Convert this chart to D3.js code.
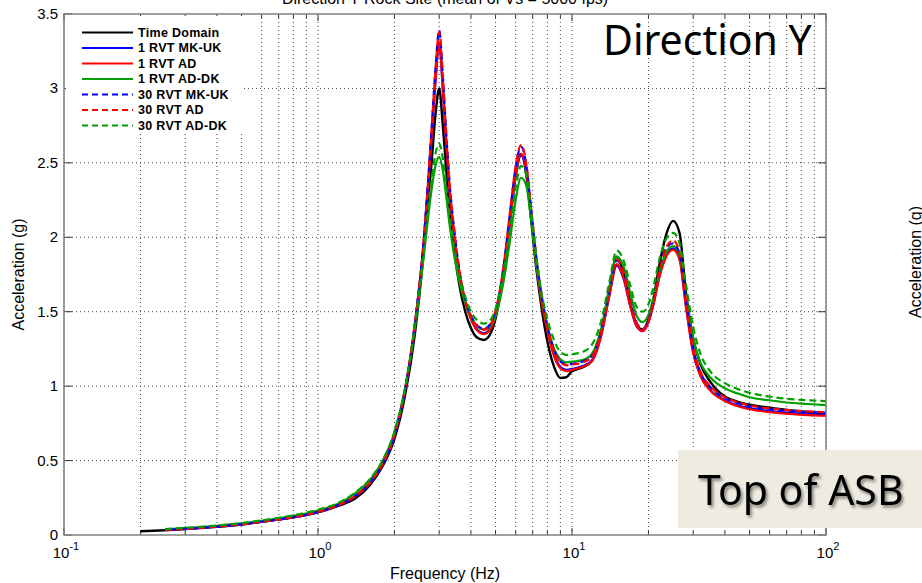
<!DOCTYPE html>
<html><head><meta charset="utf-8">
<script src="https://cdn.jsdelivr.net/npm/d3@7"></script>
<style>
body{margin:0;background:#fff;}
svg{display:block;font-family:"Liberation Sans",Arial,sans-serif;}
</style>
</head><body>
<svg id="chart" width="922" height="583"></svg>
<script>
// ---------- DATA ----------
const freq = [0.2,0.25,0.3,0.4,0.5,0.6,0.7,0.8,1.0,1.2,
  1.4,1.6,1.8,2.0,2.2,2.4,2.6,2.7,2.8,2.9,
  3.0,3.1,3.2,3.3,3.45,3.6,3.8,4.0,4.2,4.5,
  4.8,5.1,5.4,5.7,6.0,6.3,6.6,6.9,7.2,7.6,
  8.0,8.5,9.0,9.5,10,11,12,13,14,15,
  16,17,18,19,20,21,22,23.5,25,26.5,
  28,30,32,35,40,45,50,60,70,85,
  100];

const timeDomain = [0.025,0.032,0.040,0.055,0.070,0.088,0.103,0.118,0.152,0.195,
  0.245,0.335,0.465,0.645,0.935,1.335,1.880,2.200,2.500,2.820,
  3.000,2.750,2.450,2.180,1.900,1.680,1.500,1.390,1.330,1.310,
  1.360,1.520,1.800,2.120,2.420,2.560,2.430,2.120,1.820,1.520,
  1.300,1.130,1.055,1.060,1.100,1.125,1.170,1.350,1.650,1.870,
  1.750,1.550,1.410,1.380,1.450,1.600,1.800,2.020,2.110,2.030,
  1.650,1.320,1.150,1.030,0.930,0.895,0.875,0.855,0.840,0.825,
  0.815];

const rvt1MKUK = [null,0.034,0.041,0.056,0.072,0.089,0.104,0.119,0.154,0.198,
  0.258,0.348,0.478,0.668,0.965,1.395,1.945,2.295,2.675,3.040,
  3.300,2.995,2.615,2.300,1.980,1.750,1.565,1.455,1.385,1.355,
  1.395,1.535,1.785,2.100,2.410,2.550,2.440,2.150,1.855,1.570,
  1.380,1.210,1.130,1.110,1.115,1.135,1.175,1.335,1.600,1.810,
  1.715,1.530,1.400,1.370,1.430,1.560,1.725,1.880,1.925,1.860,
  1.560,1.230,1.075,0.975,0.905,0.870,0.852,0.832,0.822,0.812,
  0.808];

const rvt1AD = [null,0.035,0.042,0.057,0.073,0.090,0.105,0.120,0.155,0.200,
  0.260,0.350,0.480,0.670,0.970,1.400,1.950,2.300,2.680,3.050,
  3.310,3.000,2.620,2.300,1.980,1.750,1.560,1.450,1.380,1.350,
  1.390,1.530,1.780,2.100,2.420,2.560,2.450,2.150,1.850,1.560,
  1.370,1.200,1.120,1.100,1.110,1.130,1.170,1.330,1.600,1.820,
  1.720,1.530,1.400,1.370,1.430,1.560,1.720,1.870,1.915,1.850,
  1.550,1.220,1.070,0.970,0.900,0.865,0.845,0.825,0.815,0.805,
  0.800];

const rvt1ADDK = [null,0.038,0.046,0.062,0.078,0.095,0.112,0.128,0.165,0.210,
  0.280,0.370,0.500,0.690,0.980,1.380,1.850,2.100,2.320,2.480,
  2.540,2.450,2.270,2.080,1.860,1.700,1.560,1.470,1.410,1.380,
  1.410,1.520,1.720,1.980,2.250,2.400,2.350,2.120,1.850,1.580,
  1.400,1.250,1.180,1.160,1.165,1.175,1.220,1.380,1.650,1.870,
  1.800,1.620,1.470,1.430,1.480,1.600,1.750,1.900,1.940,1.880,
  1.620,1.320,1.160,1.060,0.985,0.950,0.925,0.905,0.890,0.880,
  0.872];

const rvt30MKUK = [null,0.035,0.042,0.057,0.073,0.090,0.105,0.120,0.156,0.201,
  0.262,0.352,0.482,0.672,0.975,1.405,1.955,2.330,2.730,3.130,
  3.390,3.090,2.690,2.360,2.030,1.785,1.585,1.475,1.415,1.385,
  1.425,1.570,1.830,2.165,2.470,2.610,2.490,2.200,1.900,1.605,
  1.405,1.245,1.165,1.145,1.150,1.165,1.205,1.365,1.620,1.845,
  1.760,1.565,1.425,1.385,1.445,1.585,1.765,1.930,1.960,1.890,
  1.595,1.255,1.095,0.995,0.920,0.885,0.865,0.845,0.835,0.827,
  0.822];

const rvt30AD = [null,0.035,0.042,0.057,0.073,0.090,0.105,0.120,0.156,0.201,
  0.262,0.352,0.482,0.672,0.975,1.405,1.950,2.320,2.720,3.120,
  3.380,3.080,2.680,2.350,2.020,1.780,1.580,1.470,1.410,1.380,
  1.420,1.570,1.830,2.170,2.480,2.620,2.500,2.200,1.900,1.600,
  1.400,1.240,1.160,1.140,1.145,1.160,1.200,1.360,1.620,1.850,
  1.760,1.560,1.420,1.380,1.440,1.580,1.760,1.930,1.980,1.900,
  1.600,1.260,1.100,1.000,0.925,0.890,0.870,0.850,0.840,0.830,
  0.825];

const rvt30ADDK = [null,0.040,0.048,0.064,0.080,0.098,0.115,0.132,0.170,0.215,
  0.285,0.375,0.505,0.695,0.985,1.390,1.880,2.150,2.380,2.560,
  2.630,2.530,2.340,2.140,1.910,1.740,1.600,1.500,1.450,1.420,
  1.450,1.570,1.780,2.050,2.330,2.480,2.420,2.180,1.900,1.620,
  1.450,1.310,1.230,1.210,1.215,1.230,1.280,1.430,1.690,1.910,
  1.840,1.670,1.530,1.500,1.550,1.680,1.840,1.990,2.030,1.960,
  1.700,1.400,1.220,1.100,1.020,0.980,0.955,0.930,0.915,0.905,
  0.900];

const seriesNames = ["Time Domain","1 RVT MK-UK","1 RVT AD","1 RVT AD-DK","30 RVT MK-UK","30 RVT AD","30 RVT AD-DK"];
const seriesValues = [timeDomain, rvt1MKUK, rvt1AD, rvt1ADDK, rvt30MKUK, rvt30AD, rvt30ADDK];
const yTickValues = [0,0.5,1,1.5,2,2.5,3,3.5];
const yTickLabels = ["0","0.5","1","1.5","2","2.5","3","3.5"];
const xTickValues = [0.1,1,10,100];
const xTickExponents = ["-1","0","1","2"];
const titleText = "Direction Y Rock Site (mean of Vs = 5000 fps)";
const xLabel = "Frequency (Hz)";
const yLabel = "Acceleration (g)";

// ---------- STYLES ----------
const colors = ["#000000","#0000ff","#ff0000","#00a000","#0000ff","#ff0000","#00a000"];
const dashed = [false,false,false,false,true,true,true];

// ---------- DRAW ----------
const svg = d3.select("#chart");
const L = 64, R = 826, T = 14, B = 535;
const x = d3.scaleLog().domain([0.1,100]).range([L,R]);
const y = d3.scaleLinear().domain([0,3.5]).range([B,T]);

svg.append("rect").attr("width",922).attr("height",583).attr("fill","#fff");

const defs = svg.append("defs");
defs.append("clipPath").attr("id","plotclip").append("rect")
  .attr("x",L).attr("y",T).attr("width",R-L).attr("height",B-T);
const f = defs.append("filter").attr("id","shadow").attr("x","-10%").attr("y","-20%").attr("width","130%").attr("height","150%");
f.append("feDropShadow").attr("dx",2).attr("dy",2.5).attr("stdDeviation",1.5)
  .attr("flood-color","#000").attr("flood-opacity",0.45);

// grid
const grid = svg.append("g");
grid.selectAll("line.vx").data(x.ticks()).join("line")
  .attr("x1",d=>x(d)).attr("x2",d=>x(d)).attr("y1",T).attr("y2",B)
  .attr("stroke","#444").attr("stroke-width",1).attr("stroke-dasharray","1,3");
grid.selectAll("line.hy").data(yTickValues.slice(1,-1)).join("line")
  .attr("x1",L).attr("x2",R).attr("y1",d=>y(d)).attr("y2",d=>y(d))
  .attr("stroke","#444").attr("stroke-width",1).attr("stroke-dasharray","1,3");

// ticks (inward)
const tk = svg.append("g").attr("stroke","#333").attr("stroke-width",1);
x.ticks().forEach(v=>{
  const major = Math.abs(Math.log10(v)-Math.round(Math.log10(v)))<1e-9;
  const len = major ? 7 : 4;
  tk.append("line").attr("x1",x(v)).attr("x2",x(v)).attr("y1",B).attr("y2",B-len);
  tk.append("line").attr("x1",x(v)).attr("x2",x(v)).attr("y1",T).attr("y2",T+len);
});
yTickValues.forEach(v=>{
  tk.append("line").attr("x1",L).attr("x2",L+8).attr("y1",y(v)).attr("y2",y(v));
  tk.append("line").attr("x1",R).attr("x2",R-8).attr("y1",y(v)).attr("y2",y(v));
});

// lines
const line = d3.line()
  .defined((d)=>d[1]!=null)
  .x(d=>x(d[0])).y(d=>y(d[1]))
  .curve(d3.curveMonotoneX);
const lg = svg.append("g").attr("clip-path","url(#plotclip)");
seriesValues.forEach((vals,i)=>{
  const pts = freq.map((fv,j)=>[fv, vals[j]]);
  lg.append("path").datum(pts).attr("d",line)
    .attr("fill","none").attr("stroke",colors[i])
    .attr("stroke-width", i===0 ? 2.4 : 2.2)
    .attr("stroke-linejoin","round")
    .attr("stroke-dasharray", dashed[i] ? "7,4" : null)
    .attr("stroke-dashoffset", i===4 ? 5 : 0);
});

// axis box
svg.append("rect").attr("x",L).attr("y",T).attr("width",R-L).attr("height",B-T)
  .attr("fill","none").attr("stroke","#808080").attr("stroke-width",1.5);

// y tick labels
svg.append("g").selectAll("text").data(yTickValues).join("text")
  .attr("x",L-6).attr("y",d=>y(d)+5).attr("text-anchor","end")
  .attr("font-size",15).attr("fill","#000")
  .text((d,i)=>yTickLabels[i]);

// x tick labels with superscripts
xTickValues.forEach((v,i)=>{
  const t = svg.append("text").attr("x",x(v)+2).attr("y",558)
    .attr("text-anchor","middle").attr("font-size",15).attr("fill","#000");
  t.append("tspan").text("10");
  t.append("tspan").attr("dy",-8).attr("font-size",11).text(xTickExponents[i]);
});

// axis labels
svg.append("text").attr("x",(L+R)/2).attr("y",579).attr("text-anchor","middle")
  .attr("font-size",16).text(xLabel);
svg.append("text").attr("transform",`translate(24,${(T+B)/2}) rotate(-90)`)
  .attr("text-anchor","middle").attr("font-size",16).text(yLabel);

// title (cut off at top, as in the reference)
svg.append("text").attr("x",(L+R)/2).attr("y",4).attr("text-anchor","middle")
  .attr("font-size",16).text(titleText);

// legend
const leg = svg.append("g");
leg.append("rect").attr("x",L+2).attr("y",T+2).attr("width",178).attr("height",118).attr("fill","#fff");
seriesNames.forEach((n,i)=>{
  const yy = 32.5 + i*15.5;
  leg.append("line").attr("x1",82).attr("x2",133).attr("y1",yy).attr("y2",yy)
    .attr("stroke",colors[i]).attr("stroke-width", 2.2)
    .attr("stroke-dasharray", dashed[i] ? "6,4" : null);
  leg.append("text").attr("x",138).attr("y",yy+4).attr("font-size",12.5)
    .attr("font-weight","bold").attr("letter-spacing",0.3).text(n);
});

// "Direction Y" annotation
svg.append("text").attr("x",603).attr("y",55).attr("font-family","'Noto Sans',sans-serif")
  .attr("font-size",41).attr("fill","#000").text("Direction Y");

// "Top of ASB" box
svg.append("rect").attr("x",678).attr("y",450).attr("width",244).attr("height",78).attr("fill","#eeece1");
svg.append("text").attr("x",698).attr("y",505).attr("font-family","'Noto Sans',sans-serif")
  .attr("font-size",41).attr("fill","#000").attr("filter","url(#shadow)").text("Top of ASB");

// partial y-label of neighbouring chart at right edge
svg.append("text").attr("transform","translate(921,318) rotate(-90)")
  .attr("text-anchor","start").attr("font-size",16).text(yLabel);
</script>
</body></html>
